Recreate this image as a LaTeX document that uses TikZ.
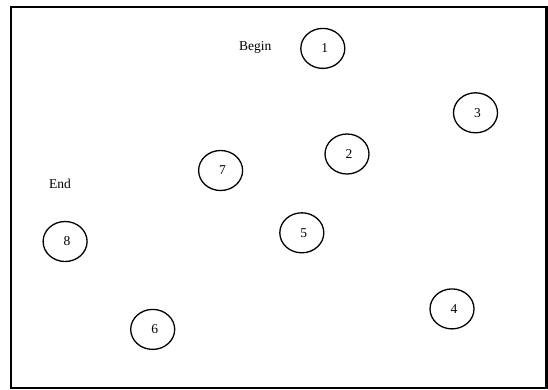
\documentclass[tikz,border=0pt]{standalone}
\usepackage{fontspec}
\setmainfont{Liberation Serif}
\usetikzlibrary{shapes.geometric}
\begin{document}
\begin{tikzpicture}[x=1pt,y=-1pt,
  state/.style={ellipse, draw, line width=1.3pt, minimum width=44pt, minimum height=40pt, inner sep=0pt, font=\fontsize{13.5}{16}\selectfont},
  tag/.style={inner sep=0pt, font=\fontsize{13.5}{16}\selectfont}]
\useasboundingbox (0,0) rectangle (548,389);
\draw[line width=2.3pt] (11.2,7.2) rectangle (546.6,387.7);
\newcommand{\dg}[1]{\raisebox{-3pt}{\hspace{4pt}#1}}
\node[state] (n1) at (322.8,48.4) {\dg{1}};
\node[state] (n2) at (347,154) {\dg{2}};
\node[state] (n3) at (475.5,112.8) {\dg{3}};
\node[state] (n4) at (452,308.9) {\dg{4}};
\node[state] (n5) at (301.8,232.8) {\dg{5}};
\node[state] (n6) at (152.7,329.4) {\dg{6}};
\node[state] (n7) at (220.6,170.5) {\dg{7}};
\node[state] (n8) at (65.1,241.5) {\dg{8}};
\node[tag] (begin) at (255.3,47.4) {Begin};
\node[tag] (end) at (59.9,183.9) {End};
\end{tikzpicture}
\end{document}
